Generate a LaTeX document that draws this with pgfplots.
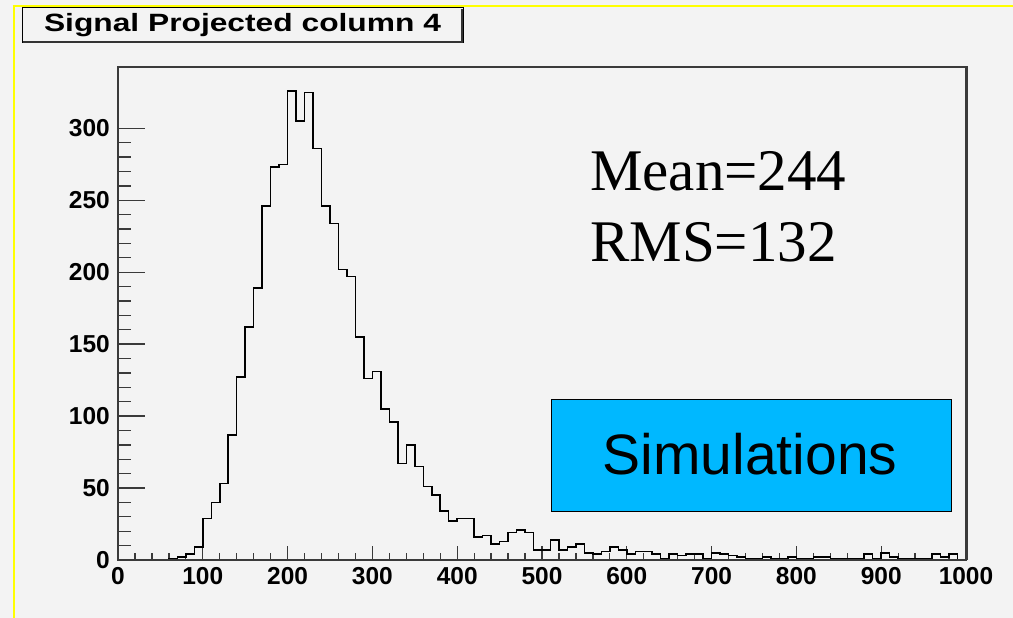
\documentclass[border=0pt]{standalone}
\usepackage{pgfplots}
\pgfplotsset{compat=1.18}
\usepackage{fontspec}
\setmainfont{Liberation Serif}
\newfontfamily\helv{Liberation Sans}
\definecolor{bg}{HTML}{F3F3F3}
\definecolor{sim}{HTML}{00B8FF}
\definecolor{framec}{HTML}{3A3A3A}
\definecolor{yel}{HTML}{FFFF00}
\begin{document}
\begin{tikzpicture}[x=1pt,y=1pt]
\fill[bg] (0,0) rectangle (1013,618);
\draw[yel, line width=2.6pt] (14,0) -- (14,613.2);
\draw[yel, line width=2.4pt] (12.7,611.8) -- (1013,611.8);
% histogram axis with x ticks
\begin{axis}[at={(118pt,58pt)}, anchor=south west, scale only axis,
  width=848pt, height=493pt,
  xmin=0, xmax=1000, ymin=0, ymax=342.6,
  axis line style={framec, line width=1.6pt},
  tick align=inside, tick pos=left,
  xtick={0,100,...,1000}, minor x tick num=4, ytick=\empty,
  major tick length=14pt, minor tick length=7pt,
  every tick/.style={framec, line width=1.3pt},
  xticklabel style={font=\helv\bfseries\fontsize{24.5}{24.5}\selectfont, inner sep=0pt, yshift=-7pt},
  /pgf/number format/assume math mode=true,
  /pgf/number format/1000 sep={}]
\addplot[const plot, black, line width=1.5pt] coordinates {
(0,0)(10,0)(20,0)(30,0)(40,0)(50,0)(60,1)(70,2)(80,4)(90,9)
(100,29)(110,40)(120,53)(130,87)(140,127)(150,162)(160,189)(170,246)(180,273)(190,275)
(200,326)(210,305)(220,325)(230,286)(240,246)(250,234)(260,202)(270,197)(280,155)(290,126)
(300,131)(310,105)(320,96)(330,67)(340,80)(350,65)(360,51)(370,45)(380,34)(390,27)
(400,29)(410,29)(420,16)(430,17)(440,11)(450,13)(460,19)(470,21)(480,19)(490,7)
(500,7)(510,14)(520,7)(530,9)(540,11)(550,5)(560,4)(570,6)(580,9)(590,7)
(600,4)(610,6)(620,6)(630,4)(640,1)(650,4)(660,3)(670,4)(680,4)(690,1)
(700,5)(710,4)(720,3)(730,2)(740,1)(750,1)(760,2)(770,1)(780,1)(790,2)
(800,1)(810,1)(820,2)(830,2)(840,1)(850,1)(860,1)(870,1)(880,4)(890,1)
(900,5)(910,2)(920,1)(930,1)(940,1)(950,1)(960,4)(970,2)(980,4)(990,0)(1000,0)};
\end{axis}
% overlay axis for y ticks
\begin{axis}[at={(118pt,58pt)}, anchor=south west, scale only axis,
  width=848pt, height=493pt,
  xmin=0, xmax=1000, ymin=0, ymax=342.6,
  axis line style={framec, line width=1.6pt},
  tick align=inside, tick pos=left,
  xtick=\empty, ytick={0,50,...,300}, minor y tick num=4,
  major tick length=27pt, minor tick length=13pt,
  every tick/.style={framec, line width=1.3pt},
  yticklabel style={font=\helv\bfseries\fontsize{24.5}{24.5}\selectfont, inner sep=0pt, xshift=-8pt},
  /pgf/number format/assume math mode=true]
\end{axis}
% frame shadow on the right
\draw[framec, line width=1.2pt] (967.6,58) -- (967.6,551.8);
% title box
\fill[bg] (22,575) rectangle (463,610);
\draw[black, line width=1pt] (22,575) rectangle (463,610);
\draw[black!80, line width=2pt] (23,576) -- (462,576) -- (462,609);
\node[anchor=base, inner sep=0] at (242.5,586.5) {\scalebox{1.27}[1]{\helv\bfseries\fontsize{25}{25}\selectfont Signal Projected column 4}};
% statistics text
\node[anchor=base west, inner sep=0] at (590,427) {\fontsize{59}{59}\selectfont Mean=244};
\node[anchor=base west, inner sep=0] at (590,356.3) {\fontsize{59}{59}\selectfont RMS=132};
% simulations box
\draw[fill=sim, draw=black, line width=1pt] (551,106) rectangle (951,218);
\node[anchor=base, inner sep=0] at (750,143.7) {\helv\fontsize{57}{57}\selectfont Simulations};
\pgfresetboundingbox
\path[use as bounding box] (0,0) rectangle (1013,618);
\end{tikzpicture}
\end{document}
